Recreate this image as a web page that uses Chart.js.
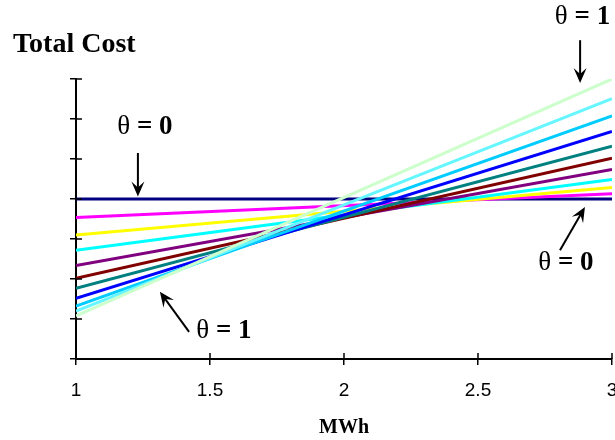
<!DOCTYPE html>
<html>
<head>
<meta charset="utf-8">
<script src="https://cdn.jsdelivr.net/npm/chart.js@4.4.1/dist/chart.umd.min.js"></script>
<style>
  html, body { margin: 0; padding: 0; background: #fff; }
  #wrap { width: 615px; height: 440px; position: relative; }
</style>
</head>
<body>
<div id="wrap"><canvas id="costChart"></canvas></div>
<script>
// data: cost at the two ends of the MWh range
var mwh = [1, 3];
var thetas = ['θ = 0', 'θ = 0.1', 'θ = 0.2', 'θ = 0.3', 'θ = 0.4', 'θ = 0.5',
              'θ = 0.6', 'θ = 0.7', 'θ = 0.8', 'θ = 0.9', 'θ = 1'];
var costAtStart = [4.0, 3.54, 3.1, 2.72, 2.34, 2.02, 1.77, 1.52, 1.32, 1.2, 1.08];
var costAtEnd   = [4.0, 4.13, 4.29, 4.49, 4.74, 5.02, 5.32, 5.69, 6.08, 6.51, 7.0];
var xTicks = [1, 1.5, 2, 2.5, 3];

var colors = ["#000080", "#FF00FF", "#FFFF00", "#00FFFF", "#800080", "#800000",
              "#008080", "#0000FF", "#00CCFF", "#66F6FF", "#CCFFCC"];

var datasets = thetas.map(function (t, i) {
    return {
        label: t,
        data: [{x: mwh[0], y: costAtStart[i]}, {x: mwh[1], y: costAtEnd[i]}],
        borderColor: colors[i],
        backgroundColor: colors[i],
        borderWidth: 3,
        pointRadius: 0,
        showLine: true,
        order: thetas.length - i
    };
});

// text labels and arrows, placed in data units
var notes = [
    {value: '0', x: 1.257, y: 5.8,  from: [1.231, 5.15], to: [1.231, 4.06]},
    {value: '1', x: 2.89,  y: 8.55, from: [2.881, 7.97], to: [2.881, 6.9]},
    {value: '0', x: 2.828, y: 2.4,  from: [2.806, 2.72], to: [2.899, 3.8]},
    {value: '1', x: 1.552, y: 0.7,  from: [1.422, 0.68], to: [1.313, 1.68]}
];

function arrow(ctx, x1, y1, x2, y2) {
    var a = Math.atan2(y2 - y1, x2 - x1);
    var len = 15, wid = 6.5, notch = 6;
    var bx = x2 - Math.cos(a) * notch, by = y2 - Math.sin(a) * notch;
    ctx.beginPath();
    ctx.moveTo(x1, y1);
    ctx.lineTo(bx, by);
    ctx.lineWidth = 2;
    ctx.strokeStyle = '#000';
    ctx.stroke();
    ctx.beginPath();
    ctx.moveTo(x2, y2);
    ctx.lineTo(x2 - Math.cos(a) * len - Math.sin(a) * wid, y2 - Math.sin(a) * len + Math.cos(a) * wid);
    ctx.lineTo(bx - Math.cos(a) * 3, by - Math.sin(a) * 3);
    ctx.lineTo(x2 - Math.cos(a) * len + Math.sin(a) * wid, y2 - Math.sin(a) * len - Math.cos(a) * wid);
    ctx.closePath();
    ctx.fillStyle = '#000';
    ctx.fill();
}

var extras = {
    id: 'extras',
    afterDraw: function (chart) {
        var ctx = chart.ctx, xs = chart.scales.x, ys = chart.scales.y;
        ctx.save();
        // inner half of the crossing tick marks
        ctx.strokeStyle = '#000';
        ctx.lineWidth = 1.5;
        xs.ticks.forEach(function (t) {
            var px = xs.getPixelForValue(t.value);
            ctx.beginPath();
            ctx.moveTo(px, ys.bottom);
            ctx.lineTo(px, ys.bottom - 6);
            ctx.stroke();
        });
        ys.ticks.forEach(function (t) {
            var py = ys.getPixelForValue(t.value);
            ctx.beginPath();
            ctx.moveTo(xs.left, py);
            ctx.lineTo(xs.left + 6, py);
            ctx.stroke();
        });

        ctx.fillStyle = '#000';
        ctx.textBaseline = 'alphabetic';
        ctx.font = 'bold 28px "Liberation Serif"';
        ctx.fillText('Total Cost', 13, 52);

        notes.forEach(function (n) {
            var cx = xs.getPixelForValue(n.x), cy = ys.getPixelForValue(n.y);
            ctx.font = '27px "Liberation Serif"';
            var w1 = ctx.measureText('θ').width;
            ctx.font = 'bold 27px "Liberation Serif"';
            var w2 = ctx.measureText(' = ' + n.value).width;
            var left = cx - (w1 + w2) / 2;
            ctx.textBaseline = 'middle';
            ctx.font = '27px "Liberation Serif"';
            ctx.fillText('θ', left, cy);
            ctx.font = 'bold 27px "Liberation Serif"';
            ctx.fillText(' = ' + n.value, left + w1, cy);
            arrow(ctx, xs.getPixelForValue(n.from[0]), ys.getPixelForValue(n.from[1]),
                       xs.getPixelForValue(n.to[0]), ys.getPixelForValue(n.to[1]));
        });
        ctx.restore();
    }
};

var ctx1 = document.getElementById("costChart");
var myChart = new Chart(ctx1, {
    type: 'scatter',
    data: { datasets: datasets },
    options: {
        responsive: true,
        maintainAspectRatio: false,
        animation: false,
        layout: { padding: { top: 79, right: 3, left: 0, bottom: 0 } },
        plugins: {
            legend: { display: false },
            tooltip: { enabled: false }
        },
        scales: {
            x: {
                type: 'linear',
                min: 1,
                max: 3,
                afterBuildTicks: function (scale) {
                    scale.ticks = xTicks.map(function (v) { return {value: v}; });
                },
                afterFit: function (scale) {
                    scale.height = 81;
                    scale.paddingLeft = 0;
                    scale.paddingRight = 0;
                },
                border: { display: true, color: '#000', width: 2 },
                grid: { drawOnChartArea: false, drawTicks: true, tickLength: 6, color: '#000', lineWidth: 1.5 },
                ticks: {
                    color: '#000',
                    padding: 14,
                    maxRotation: 0,
                    callback: function (v) { return String(v); },
                    font: { family: '"Liberation Sans", Arial', size: 19 }
                },
                title: {
                    display: true,
                    text: 'MWh',
                    color: '#000',
                    padding: { top: 0, bottom: 0 },
                    font: { family: '"Liberation Serif"', size: 20, weight: 'bold' }
                }
            },
            y: {
                min: 0,
                max: 7,
                afterFit: function (scale) { scale.width = 76; },
                border: { display: true, color: '#000', width: 2 },
                grid: { drawOnChartArea: false, drawTicks: true, tickLength: 6, color: '#000', lineWidth: 1.5 },
                ticks: { display: false, stepSize: 1 }
            }
        }
    },
    plugins: [extras]
});
</script>
</body>
</html>
